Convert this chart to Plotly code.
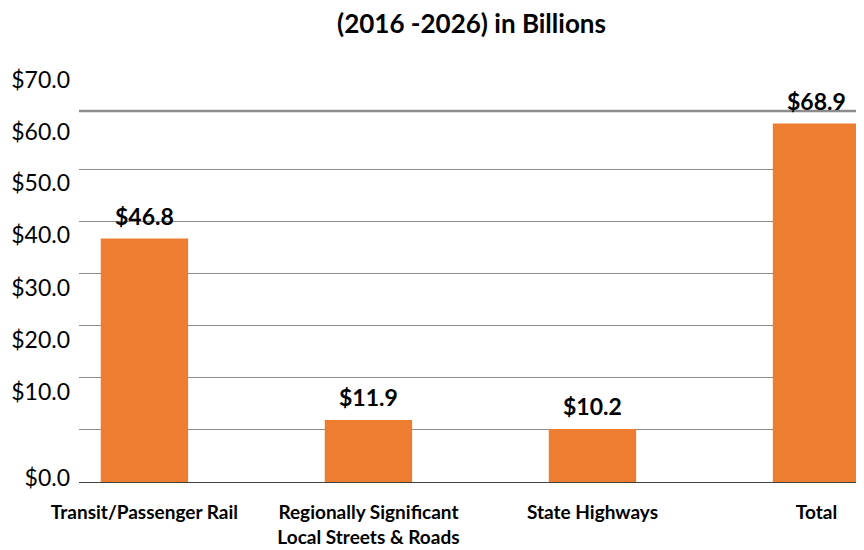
import plotly.graph_objects as go

# data
categories = ["Transit/Passenger Rail", "Regionally Significant<br>Local Streets & Roads",
              "State Highways", "Total"]
values = [46.8, 11.9, 10.2, 68.9]
value_labels = ["$46.8", "$11.9", "$10.2", "$68.9"]

grid_vals = [10, 20, 30, 40, 50, 60]
# y-axis labels sit a little off their gridlines in the source picture
label_pos = [0.8, 17.3, 27.3, 37.3, 47.5, 57.5, 67.3, 77.3]
label_text = ["$0.0", "$10.0", "$20.0", "$30.0", "$40.0", "$50.0", "$60.0", "$70.0"]
top_line = 71.3

FONT = "Lato"
ORANGE = "#ED7D31"

fig = go.Figure()
fig.add_trace(go.Bar(
    x=categories,
    y=values,
    marker=dict(color=ORANGE, line=dict(width=0)),
    width=0.39,
    showlegend=False,
    hoverinfo="skip"
))

# value labels above the bars
for c, v, t in zip(categories, values, value_labels):
    fig.add_annotation(x=c, y=v, text="<b>%s</b>" % t, showarrow=False,
                       yanchor="middle", yshift=23,
                       font=dict(family=FONT, size=23, color="#000000"))

# dummy trace so the label axis is drawn
fig.add_trace(go.Scatter(x=[categories[0]], y=[0], yaxis="y2", mode="markers",
                         marker=dict(opacity=0), showlegend=False, hoverinfo="skip"))

fig.add_shape(type="line", xref="paper", x0=0, x1=1, yref="y", y0=top_line, y1=top_line,
              line=dict(color="#8c8c8c", width=2.5), layer="below")

# page body has an 8px margin, so the figure is drawn 8px smaller
fig.update_layout(
    width=856, height=542,
    margin=dict(l=71, r=0, t=62, b=68, autoexpand=False),
    paper_bgcolor="white", plot_bgcolor="white",
    title=dict(text="<b>(2016 -2026) in Billions</b>", x=0.5, xref="paper", xanchor="center",
               y=0.97, yanchor="middle", font=dict(family=FONT, size=26, color="#000000")),
    xaxis=dict(range=[-0.292, 3.212], showgrid=False, showline=True, linecolor="#404040",
               linewidth=1.2, ticks="", automargin=False, ticklabelstandoff=13,
               tickfont=dict(family=FONT, size=19, color="#000000"),
               tickprefix="<b>", ticksuffix="</b>", fixedrange=True),
    yaxis=dict(range=[0, 79.2], tickvals=grid_vals, showticklabels=False, showgrid=True,
               gridcolor="#8c8c8c", gridwidth=1, zeroline=False, showline=False, ticks="",
               automargin=False),
    yaxis2=dict(range=[0, 79.2], overlaying="y", side="left", tickvals=label_pos,
                ticktext=label_text, showgrid=False, zeroline=False, showline=False,
                ticks="", ticklabelstandoff=8, automargin=False,
                tickfont=dict(family=FONT, size=23, color="#000000")),
    bargap=0.61,
)

fig.write_html("out.html")
